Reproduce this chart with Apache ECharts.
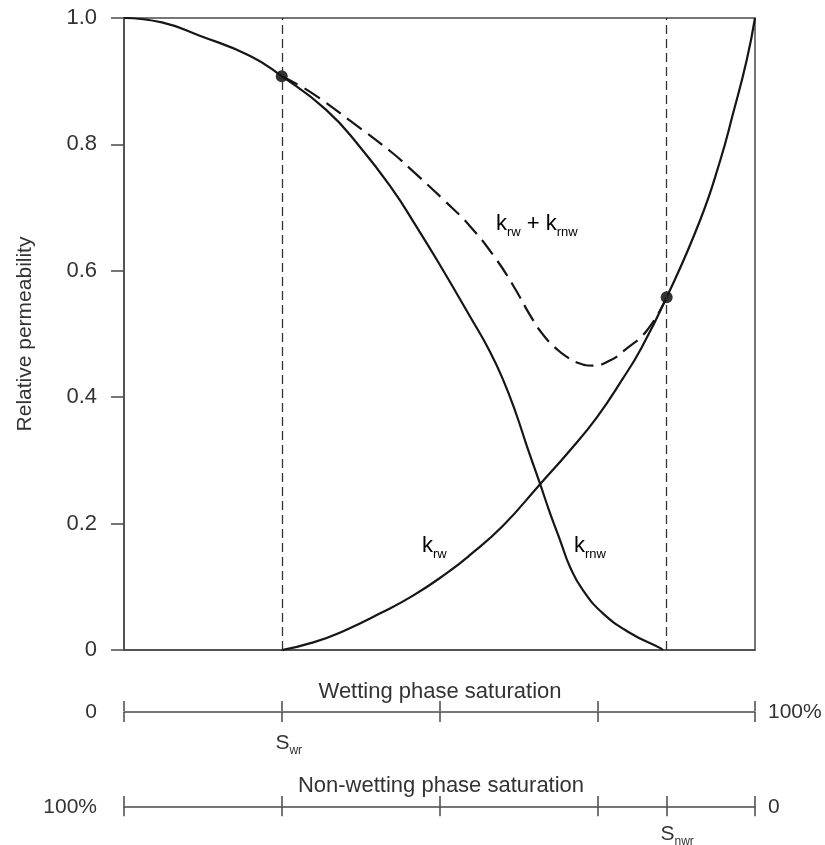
<!DOCTYPE html>
<html>
<head>
<meta charset="utf-8">
<title>Relative permeability</title>
<script src="https://cdn.jsdelivr.net/npm/echarts@6/dist/echarts.min.js"></script>
<style>
  html, body { margin: 0; padding: 0; background: #fff; }
  #main { width: 825px; height: 845px; }
</style>
</head>
<body>
<div id="main"></div>
<script>
// residual saturations (in % of wetting / non-wetting phase)
const SWR = 25;
const SNWR = 14;

// k_rnw (non-wetting phase)
const krnwSw = [0, 6, 12, 20, 25, 32, 37.4, 42.6, 46.4, 49.6, 55, 58, 60.1, 62.1, 63.9, 65.9, 67.5, 69.1, 70.7, 72.7, 75.9, 80.2, 85, 85.4];
const krnwVal = [1.0, 0.993, 0.972, 0.94, 0.908, 0.855, 0.796, 0.728, 0.669, 0.617, 0.525, 0.472, 0.427, 0.375, 0.321, 0.264, 0.217, 0.174, 0.131, 0.095, 0.058, 0.027, 0.003, 0];

// k_rw (wetting phase)
const krwSw = [25, 30, 35, 40.6, 45.8, 51.2, 54.8, 60.1, 65.9, 70.7, 75, 78.9, 82, 86, 91.3, 94.5, 96.5, 98.7, 100];
const krwVal = [0, 0.012, 0.031, 0.058, 0.086, 0.122, 0.15, 0.197, 0.262, 0.316, 0.369, 0.427, 0.478, 0.558, 0.68, 0.775, 0.848, 0.934, 1.0];

// k_rw + k_rnw (dashed)
const sumSw = [25, 29.5, 36.3, 42.6, 45.3, 50.9, 54.8, 58.5, 61.6, 64.7, 66.8, 68.6, 70, 72, 74.3, 77, 79.4, 82.9, 86];
const sumVal = [0.908, 0.883, 0.834, 0.786, 0.762, 0.71, 0.671, 0.625, 0.578, 0.524, 0.494, 0.476, 0.465, 0.454, 0.45, 0.458, 0.475, 0.506, 0.558];

// end points marked with dots
const dotSw = [25, 86];
const dotVal = [0.908, 0.558];

// ticks of the non-wetting saturation axis (in % non-wetting)
const nonWetTicks = [0, SNWR, 25, 50, 75, 100];

const FONT = '"Liberation Sans", Arial, Helvetica, sans-serif';
const TXT = '#333';
const AX = '#4a4a4a';
const LINE = '#161616';

function pairs(xs, ys) {
    return xs.map((x, i) => [x, ys[i]]);
}

var dom = document.getElementById('main');
var myChart = echarts.init(dom, null, { renderer: 'canvas' });

const subRich = {
    s: { fontSize: 21, fontFamily: FONT, color: TXT },
    sub: { fontSize: 12, fontFamily: FONT, color: TXT, verticalAlign: 'bottom', padding: [0, 0, -3, 0] }
};

const kRich = {
    k: { fontSize: 22, fontFamily: FONT, color: TXT, lineHeight: 24 },
    sub: { fontSize: 13, fontFamily: FONT, color: TXT, verticalAlign: 'bottom', lineHeight: 13, padding: [0, 0, -3, 0] }
};

const option = {
    animation: false,
    backgroundColor: '#fff',
    textStyle: { fontFamily: FONT },
    grid: [
        { left: 124, right: 70, top: 18, bottom: 195, show: true, borderColor: AX, borderWidth: 1.5 },
        { left: 124, right: 70, top: 711, height: 1 },
        { left: 124, right: 70, top: 806, height: 1 }
    ],
    xAxis: [
        {
            gridIndex: 0, type: 'value', min: 0, max: 100,
            axisLine: { show: true, lineStyle: { color: AX, width: 1.5 } },
            axisTick: { show: false }, axisLabel: { show: false }, splitLine: { show: false }
        },
        // wetting phase saturation axis (ticks below)
        {
            gridIndex: 1, type: 'value', min: 0, max: 100, interval: 25, position: 'bottom',
            axisLine: { show: true, lineStyle: { color: AX, width: 1.5 } },
            axisTick: { show: true, length: 10, lineStyle: { color: AX, width: 1.5 } },
            axisLabel: {
                show: true, margin: 21, customValues: [SWR],
                formatter: v => v === SWR ? '{s|S}{sub|wr}' : '',
                rich: subRich, padding: [0, 0, 0, 14]
            },
            splitLine: { show: false }
        },
        // wetting axis twin (ticks above)
        {
            gridIndex: 1, type: 'value', min: 0, max: 100, interval: 25, position: 'top',
            axisLine: { show: false },
            axisTick: { show: true, length: 10, lineStyle: { color: AX, width: 1.5 } },
            axisLabel: { show: false }, splitLine: { show: false }
        },
        // non-wetting phase saturation axis (100% on the left)
        {
            gridIndex: 2, type: 'value', min: 0, max: 100, inverse: true, position: 'bottom',
            axisLine: { show: true, lineStyle: { color: AX, width: 1.5 } },
            axisTick: { show: true, length: 10, customValues: nonWetTicks, lineStyle: { color: AX, width: 1.5 } },
            axisLabel: {
                show: true, margin: 17, customValues: [SNWR],
                formatter: v => v === SNWR ? '{s|S}{sub|nwr}' : '',
                rich: subRich, padding: [0, 0, 0, 21]
            },
            splitLine: { show: false }
        },
        {
            gridIndex: 2, type: 'value', min: 0, max: 100, inverse: true, position: 'top',
            axisLine: { show: false },
            axisTick: { show: true, length: 10, customValues: nonWetTicks, lineStyle: { color: AX, width: 1.5 } },
            axisLabel: { show: false }, splitLine: { show: false }
        }
    ],
    yAxis: [
        {
            gridIndex: 0, type: 'value', min: 0, max: 1, interval: 0.2,
            name: 'Relative permeability', nameLocation: 'middle', nameGap: 88,
            nameTextStyle: { fontSize: 21, color: TXT, fontFamily: FONT },
            axisLine: { show: true, lineStyle: { color: AX, width: 1.5 } },
            axisTick: { show: true, length: 13, lineStyle: { color: AX, width: 1.5 } },
            axisLabel: {
                margin: 27, fontSize: 22, color: TXT, fontFamily: FONT,
                formatter: v => v === 0 ? '0' : v.toFixed(1)
            },
            splitLine: { show: false }
        },
        { gridIndex: 1, type: 'value', min: 0, max: 1, show: false },
        { gridIndex: 2, type: 'value', min: 0, max: 1, show: false }
    ],
    series: [
        {
            name: 'krnw', type: 'line', xAxisIndex: 0, yAxisIndex: 0,
            data: pairs(krnwSw, krnwVal), smooth: 0.5, showSymbol: false,
            lineStyle: { color: LINE, width: 2.2 }
        },
        {
            name: 'krw', type: 'line', xAxisIndex: 0, yAxisIndex: 0,
            data: pairs(krwSw, krwVal), smooth: 0.5, showSymbol: false,
            lineStyle: { color: LINE, width: 2.2 },
            markLine: {
                silent: true, symbol: ['none', 'none'], label: { show: false },
                lineStyle: { color: '#333', width: 1.3, type: [9, 5] },
                data: [{ xAxis: SWR }, { xAxis: 100 - SNWR }]
            }
        },
        {
            name: 'krw + krnw', type: 'line', xAxisIndex: 0, yAxisIndex: 0,
            data: pairs(sumSw, sumVal), smooth: 0.5, showSymbol: false,
            lineStyle: { color: LINE, width: 2.2, type: [18, 8] }
        },
        {
            name: 'dots', type: 'scatter', xAxisIndex: 0, yAxisIndex: 0,
            data: pairs(dotSw, dotVal), symbolSize: 12,
            itemStyle: { color: '#000' }
        }
    ],
    graphic: [
        { type: 'text', x: 440, y: 692, style: { text: 'Wetting phase saturation', fontSize: 22, fontFamily: FONT, fill: TXT, align: 'center', verticalAlign: 'middle' } },
        { type: 'text', x: 441, y: 786, style: { text: 'Non-wetting phase saturation', fontSize: 22, fontFamily: FONT, fill: TXT, align: 'center', verticalAlign: 'middle' } },
        { type: 'text', x: 97, y: 712, style: { text: '0', fontSize: 21, fontFamily: FONT, fill: TXT, align: 'right', verticalAlign: 'middle' } },
        { type: 'text', x: 768, y: 712, style: { text: '100%', fontSize: 21, fontFamily: FONT, fill: TXT, align: 'left', verticalAlign: 'middle' } },
        { type: 'text', x: 97, y: 807, style: { text: '100%', fontSize: 21, fontFamily: FONT, fill: TXT, align: 'right', verticalAlign: 'middle' } },
        { type: 'text', x: 768, y: 807, style: { text: '0', fontSize: 21, fontFamily: FONT, fill: TXT, align: 'left', verticalAlign: 'middle' } },
        { type: 'text', x: 496, y: 224, style: { text: '{k|k}{sub|rw}{k| + k}{sub|rnw}', rich: kRich, verticalAlign: 'middle' } },
        { type: 'text', x: 422, y: 546, style: { text: '{k|k}{sub|rw}', rich: kRich, verticalAlign: 'middle' } },
        { type: 'text', x: 574, y: 546, style: { text: '{k|k}{sub|rnw}', rich: kRich, verticalAlign: 'middle' } }
    ]
};

if (option && typeof option === 'object') {
    myChart.setOption(option);
}

window.addEventListener('resize', myChart.resize);
</script>
</body>
</html>
